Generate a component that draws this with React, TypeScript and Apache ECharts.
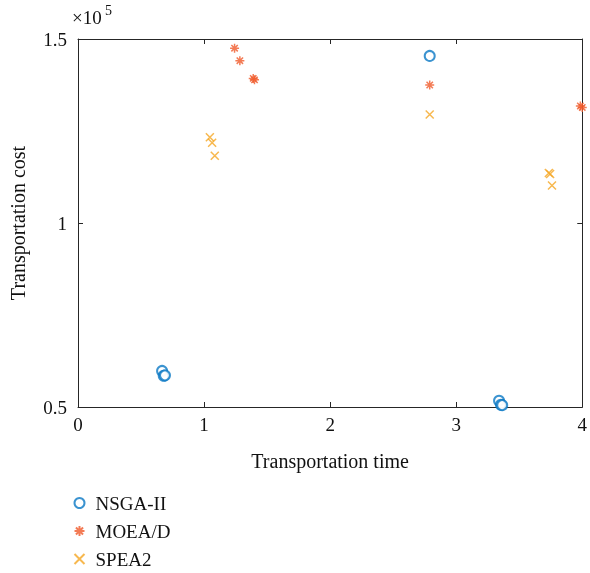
import React, { useEffect, useRef } from "react";
import * as echarts from "echarts";

const seriesNames = ["NSGA-II", "MOEA/D", "SPEA2"];
const nsgaTime = [0.667, 0.68, 0.69, 2.79, 3.34, 3.355, 3.365];
const nsgaCost = [59800, 58500, 58600, 145400, 51700, 50600, 50500];
const moeadTime = [1.242, 1.284, 1.39, 1.4, 2.79, 3.985, 4.0];
const moeadCost = [147500, 144100, 139300, 138900, 137500, 131800, 131400];
const spea2Time = [1.046, 1.064, 1.085, 2.79, 3.735, 3.745, 3.76];
const spea2Cost = [123300, 121800, 118300, 129500, 113600, 113300, 110200];
const xTicks = [0, 1, 2, 3, 4];
const yTicks = [50000, 100000, 150000];

const colors = ["#0a78c4", "#f05a2a", "#f5a623"];
const FONT = "Liberation Serif";
const AX = "#262626";
const TXT = "#111";

const starPath =
  "path://M0,-5L0,5M-5,0L5,0M-3.54,-3.54L3.54,3.54M-3.54,3.54L3.54,-3.54";
const xPath = "path://M-5,-5L5,5M-5,5L5,-5";

export default function App() {
  const ref = useRef<HTMLDivElement>(null);
  useEffect(() => {
    if (!ref.current) return;
    const chart = echarts.init(ref.current, undefined, { renderer: "svg" });
    const zip = (xs: number[], ys: number[]) => xs.map((x, i) => [x, ys[i]]);
    const axisCommon = {
      axisLine: { show: true, onZero: false, lineStyle: { color: AX, width: 1 } },
      axisTick: { show: true, inside: true, length: 5, lineStyle: { color: AX } },
      splitLine: { show: false },
    };
    chart.setOption({
      animation: false,
      textStyle: { fontFamily: FONT },
      grid: { left: 75, right: 5.5, top: 39, bottom: 166, containLabel: false },
      xAxis: [
        {
          type: "value",
          min: xTicks[0],
          max: xTicks[xTicks.length - 1],
          interval: 1,
          position: "bottom",
          ...axisCommon,
          axisLabel: { color: TXT, fontSize: 19, fontFamily: FONT, margin: 8 },
          name: "Transportation time",
          nameLocation: "middle",
          nameGap: 44,
          nameTextStyle: { color: TXT, fontSize: 20, fontFamily: FONT },
        },
        {
          type: "value",
          min: xTicks[0],
          max: xTicks[xTicks.length - 1],
          interval: 1,
          position: "top",
          ...axisCommon,
          axisLabel: { show: false },
        },
      ],
      yAxis: [
        {
          type: "value",
          min: yTicks[0],
          max: yTicks[yTicks.length - 1],
          interval: 50000,
          position: "left",
          ...axisCommon,
          axisLabel: {
            color: TXT,
            fontSize: 19,
            fontFamily: FONT,
            margin: 11,
            formatter: (v: number) => String(v / 1e5),
          },
          name: "Transportation cost",
          nameLocation: "middle",
          nameGap: 50,
          nameRotate: 90,
          nameTextStyle: { color: TXT, fontSize: 20, fontFamily: FONT },
        },
        {
          type: "value",
          min: yTicks[0],
          max: yTicks[yTicks.length - 1],
          interval: 50000,
          position: "right",
          ...axisCommon,
          axisLabel: { show: false },
        },
      ],
      legend: {
        orient: "vertical",
        left: 67,
        top: 488,
        height: 85,
        itemGap: 8,
        itemWidth: 14,
        itemHeight: 10,
        textStyle: {
          color: TXT,
          fontSize: 19,
          lineHeight: 20,
          fontFamily: FONT,
          padding: [0, 0, 0, 4],
        },
        data: seriesNames,
      },
      graphic: [
        {
          type: "text",
          left: 72,
          top: 8,
          style: { text: "×10", fill: TXT, font: `19px "${FONT}"` },
        },
        {
          type: "text",
          left: 105,
          top: 3,
          style: { text: "5", fill: TXT, font: `14px "${FONT}"` },
        },
      ],
      series: [
        {
          name: seriesNames[0],
          type: "scatter",
          data: zip(nsgaTime, nsgaCost),
          symbol: "emptyCircle",
          symbolSize: 10,
          itemStyle: { color: colors[0], borderColor: colors[0], borderWidth: 1.5 },
        },
        {
          name: seriesNames[1],
          type: "scatter",
          data: zip(moeadTime, moeadCost),
          symbol: starPath,
          symbolSize: 9,
          itemStyle: { color: "none", borderColor: colors[1], borderWidth: 1.5 },
        },
        {
          name: seriesNames[2],
          type: "scatter",
          data: zip(spea2Time, spea2Cost),
          symbol: xPath,
          symbolSize: 8,
          itemStyle: { color: "none", borderColor: colors[2], borderWidth: 1.5 },
        },
      ],
    });
    return () => chart.dispose();
  }, []);
  return (
    <div
      ref={ref}
      style={{ position: "fixed", left: 0, top: 0, width: 590, height: 573 }}
    />
  );
}
